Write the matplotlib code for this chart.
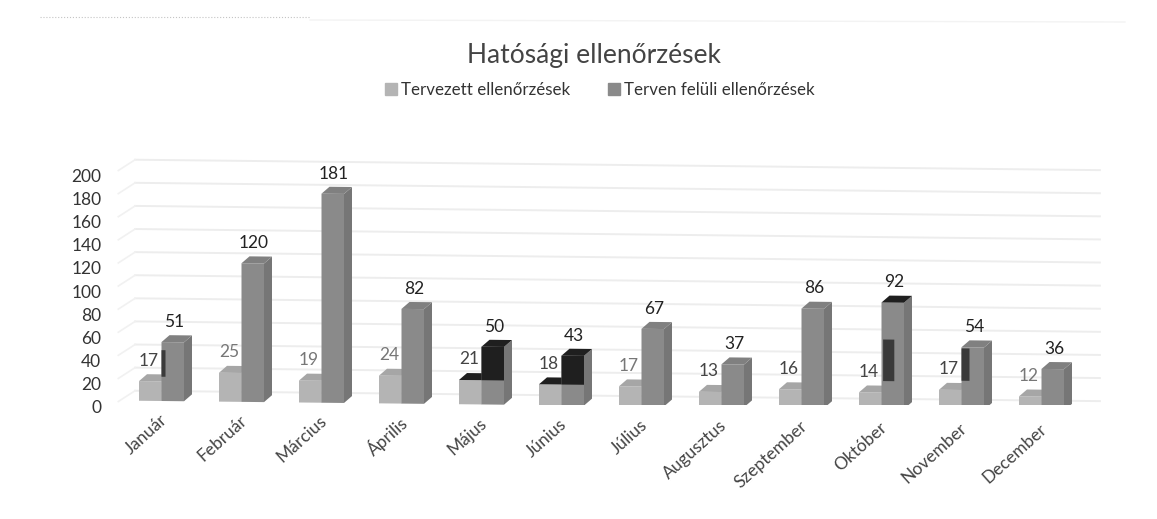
import numpy as np
import matplotlib
matplotlib.use('Agg')
import matplotlib.pyplot as plt
from matplotlib.lines import Line2D
from matplotlib.patches import Patch
from matplotlib.transforms import Affine2D

honapok = ['Január', 'Február', 'Március', 'Április', 'Május', 'Június', 'Július',
           'Augusztus', 'Szeptember', 'Október', 'November', 'December']
tervezett = [17, 25, 19, 24, 21, 18, 17, 13, 16, 14, 17, 12]
terven_feluli = [51, 120, 181, 82, 50, 43, 67, 37, 86, 92, 54, 36]
y_ticks = list(range(0, 201, 20))

# a szkennelt kep hibai: (honap, also ertek, felso ertek)
fekete_teli = [4, 5]
fekete_teto = [4, 5, 9]
sotet_csikok = [(0, 21, 44, 0.0, 0.05), (9, 24, 60, 0.02, 0.14), (10, 25, 53, 0.0, 0.1)]

W, H = 1157, 519
plt.rcParams['font.family'] = ['Lato', 'DejaVu Sans']

fig = plt.figure(figsize=(W / 100, H / 100), dpi=100)
ax = fig.add_axes([118 / W, (H - 405) / H, (1100 - 118) / W, (405 - 174) / H])
ax.set_xlim((118 - 161.5) / 80, (1100 - 161.5) / 80)
ax.set_ylim(0, 200)
for s in ax.spines.values():
    s.set_visible(False)
ax.set_xticks([])
ax.set_yticks(y_ticks)
ax.tick_params(axis='y', length=0, pad=12, labelsize=12.5, labelcolor='#333333')
for t in ax.get_yticklabels():
    t.set_y(t.get_position()[1])
    t.set_transform(t.get_transform() + Affine2D().translate(0, -1.5))

# a kep kicsit el van forgatva, ezert minden sik ferde
ferde = 0.0108


def sik(dy_px):
    eltolas = Affine2D([[1, 0, 0], [-ferde, 1, ferde * 161.5 + dy_px], [0, 0, 1]])
    return ax.transData + eltolas


fal = sik(14)
elol = sik(4)

# racsvonalak
for v in y_ticks:
    ax.plot([-0.33, 11.73], [v, v], color='#ededed', lw=1.4, transform=fal, clip_on=False, zorder=1)
    ax.plot([-0.54, -0.33], [v - 11 / 1.155, v], color='#f1f1f1', lw=1.2, transform=fal, clip_on=False, zorder=1)

w = 22.5 / 80
dx = 8 / 80
dy = 7 / 1.155


def hasab(x0, v, elo, oldal, teto):
    ax.bar(x0, v, w, align='edge', color=elo, transform=elol, zorder=3)
    ax.fill([x0 + w, x0 + w + dx, x0 + w + dx, x0 + w], [0, dy, v + dy, v],
            color=oldal, transform=elol, zorder=3, lw=0)
    ax.fill([x0, x0 + dx, x0 + w + dx, x0 + w], [v, v + dy, v + dy, v],
            color=teto, transform=elol, zorder=3, lw=0)


for i in range(len(honapok)):
    teto1 = '#1f1f1f' if i in fekete_teli else '#a6a6a6'
    hasab(i - w, tervezett[i], '#b4b4b4', '#9c9c9c', teto1)
    teto2 = '#1f1f1f' if i in fekete_teto else '#808080'
    hasab(i, terven_feluli[i], '#8a8a8a', '#767676', teto2)
    if i in fekete_teli:
        ax.bar(i, terven_feluli[i] - tervezett[i], w, bottom=tervezett[i], align='edge',
               color='#1f1f1f', transform=elol, zorder=4)

    szin1 = '#777777' if i in (1, 2, 3, 6, 11) else '#444444'
    ax.annotate(str(tervezett[i]), (i, tervezett[i]), xycoords=elol, xytext=(-9, 15),
                textcoords='offset points', ha='center', va='center', fontsize=12.5,
                color=szin1, zorder=5)
    ax.annotate(str(terven_feluli[i]), (i, terven_feluli[i]), xycoords=elol, xytext=(9, 14.5),
                textcoords='offset points', ha='center', va='center', fontsize=12.5,
                color='#222222', zorder=5)
    ax.text(i + 0.04, -14, honapok[i], transform=elol, rotation=42, rotation_mode='anchor',
            ha='right', va='center', fontsize=12.5, color='#444444', clip_on=False)

for i, also, felso, bal, szel in sotet_csikok:
    ax.bar(i + bal, felso - also, szel, bottom=also, align='edge', color='#3a3a3a',
           transform=elol, zorder=4)

fig.text(594.5 / W, 1 - 56 / H, 'Hatósági ellenőrzések', ha='center', va='center',
         fontsize=19, color='#444444')

kezek = [Patch(color='#b4b4b4', label='Tervezett ellenőrzések'),
         Patch(color='#8a8a8a', label='Terven felüli ellenőrzések')]
fig.legend(handles=kezek, loc='center', bbox_to_anchor=(600 / W, 1 - 90 / H), ncols=2,
           frameon=False, fontsize=12.2, handlelength=0.7, handleheight=0.7, handletextpad=0.25,
           columnspacing=2.2, labelcolor='#333333')

# halvany nyomok a szkennelt lapon
fig.add_artist(Line2D([40 / W, 310 / W], [1 - 17 / H, 1 - 17 / H], color='#c4c4c4', lw=0.8, ls=':'))
fig.add_artist(Line2D([310 / W, 1125 / W], [1 - 20 / H, 1 - 22 / H], color='#f3f3f3', lw=1))

fig.savefig('out.png', dpi=100)
